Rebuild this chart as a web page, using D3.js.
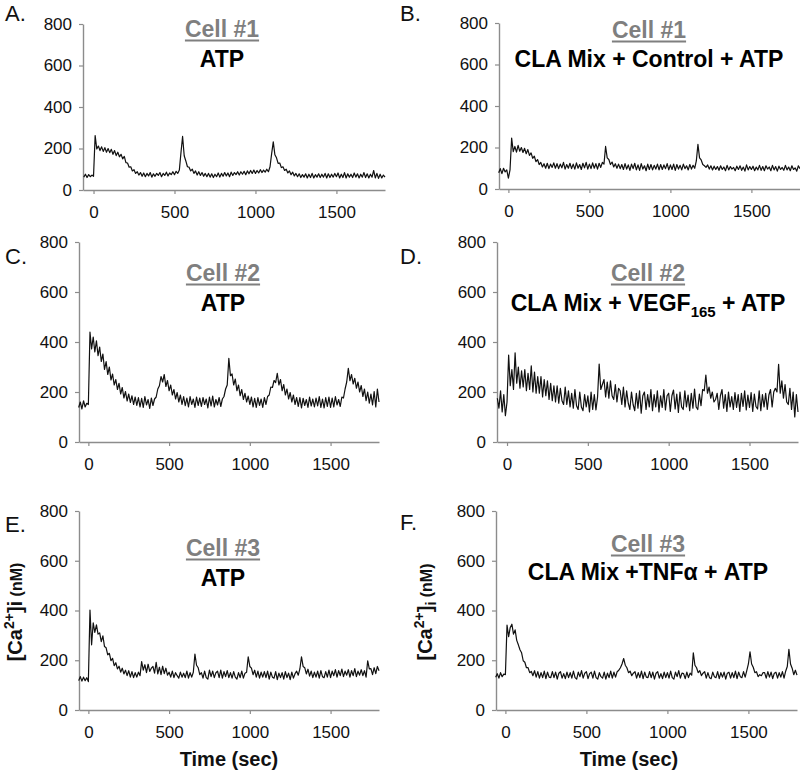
<!DOCTYPE html>
<html><head><meta charset="utf-8">
<script src="https://cdn.jsdelivr.net/npm/d3@7"></script>
<style>
html,body{margin:0;padding:0;background:#fff;}
svg{display:block;font-family:"Liberation Sans",Arial,Helvetica,sans-serif;}
</style></head><body>
<svg id="chart" width="800" height="773"></svg>
<script>
// ---------- DATA ----------
const timeStart = -60, timeStep = 10;   // sample times: -60, -50, ... 1800 s
const xTicks = [0, 500, 1000, 1500];
const yTicks = [0, 200, 400, 600, 800];
const yDomain = [0, 800];
const xEnd = 1800;
const panelLetters = ["A.", "B.", "C.", "D.", "E.", "F."];
const cellLabels = ["Cell #1", "Cell #1", "Cell #2", "Cell #2", "Cell #3", "Cell #3"];
const treatmentA = [["ATP", ""]];
const treatmentB = [["CLA Mix + Control + ATP", ""]];
const treatmentC = [["ATP", ""]];
const treatmentD = [["CLA Mix + VEGF", ""], ["165", "sub"], [" + ATP", ""]];
const treatmentE = [["ATP", ""]];
const treatmentF = [["CLA Mix +TNFα + ATP", ""]];
const xAxisTitle = "Time (sec)";

// [Ca2+]i (nM) traces, one value every 10 s from -60 s to 1800 s
const cell1ATP = [
 62,76,60,74,64,72,
 66,262,198,212,190,208,186,204,182,200,
 180,196,172,190,166,182,160,172,150,162,
 132,130,110,112,92,98,80,88,72,84,
 66,82,64,80,68,84,62,78,66,80,
 70,84,64,80,70,86,68,82,74,88,
 74,90,80,96,180,258,165,140,112,110,
 92,100,80,92,72,88,70,84,66,80,
 64,80,62,78,60,76,64,82,62,80,
 66,84,68,82,64,86,70,84,74,88,
 72,88,76,90,74,92,78,94,80,96,
 80,94,82,98,84,96,86,100,88,112,
 175,232,170,155,128,130,108,112,94,100,
 82,92,74,86,68,80,64,78,60,74,
 62,78,58,76,60,80,58,74,62,78,
 60,76,62,80,58,78,60,76,62,80,
 64,82,58,76,60,84,58,78,62,76,
 60,82,62,78,58,76,62,84,60,78,
 58,76,62,94,58,80,56,76,58,72,
 62];
const cell1CLAControl = [
 78,98,74,100,82,92,
 52,92,245,180,205,178,210,182,200,176,
 196,170,190,162,174,148,158,132,142,118,
 128,106,122,100,124,98,120,104,126,100,
 122,98,120,102,128,96,118,100,124,98,
 120,96,126,100,118,94,124,102,128,96,
 120,98,126,100,122,96,124,104,128,120,
 205,150,142,118,130,106,122,100,120,98,
 118,94,122,96,116,90,120,98,124,92,
 116,90,122,96,112,88,120,94,118,92,
 114,96,120,92,118,94,116,98,122,92,
 116,94,120,90,118,96,114,92,120,98,
 112,92,118,96,114,100,135,215,150,140,
 118,112,104,116,96,112,92,110,94,108,
 90,112,94,106,88,114,92,108,96,104,
 88,110,94,112,90,106,86,116,92,108,
 94,110,88,106,92,114,90,108,88,112,
 96,106,88,114,92,108,86,110,94,104,
 90,114,92,106,88,112,94,102,86,112,
 98];
const cell2ATP = [
 138,160,132,165,140,155,
 150,440,372,420,360,405,345,380,322,352,
 290,322,270,300,248,272,228,250,210,235,
 192,218,176,202,164,192,158,185,150,180,
 146,178,140,175,138,182,148,170,134,176,
 146,172,180,212,225,262,240,270,222,246,
 205,228,188,210,172,198,160,188,150,182,
 145,176,140,182,150,172,138,180,146,176,
 142,178,150,172,136,180,144,184,140,170,
 148,178,142,172,182,212,228,335,265,272,
 228,252,205,228,185,210,170,195,160,184,
 150,180,140,175,138,178,146,172,138,178,
 150,182,188,220,218,246,238,275,228,250,
 205,230,188,212,172,198,160,188,150,178,
 142,178,136,175,146,170,138,180,144,172,
 140,176,144,182,138,172,136,178,142,180,
 138,176,140,182,148,170,142,180,176,212,
 240,295,245,270,232,255,215,240,200,226,
 182,212,165,200,155,192,148,202,140,212,
 160];
const cell2CLAVEGF = [
 175,135,205,120,190,105,
 160,348,225,290,210,357,235,300,215,285,
 220,290,205,275,210,305,200,280,195,262,
 195,262,180,250,185,245,170,235,165,225,
 160,225,155,215,165,150,220,150,205,140,
 195,135,210,145,130,200,140,125,190,140,
 185,120,200,130,190,128,180,312,210,230,
 250,180,240,175,245,185,170,230,160,215,
 205,150,220,140,205,155,130,200,150,125,
 195,135,205,115,185,200,130,190,140,210,
 125,190,140,205,120,185,138,210,128,185,
 195,122,185,208,132,192,118,200,140,130,
 205,140,188,125,195,135,212,140,130,192,
 145,210,205,268,195,220,175,200,160,170,
 195,130,185,210,135,190,122,200,140,182,
 130,198,138,190,122,195,142,205,128,188,
 138,198,122,192,142,132,205,125,190,140,
 195,130,188,210,140,200,215,200,311,195,
 245,175,230,160,150,215,130,200,100,190,
 120];
const cell3ATP = [
 118,134,116,132,118,130,
 114,402,262,350,312,342,305,310,275,298,
 255,250,222,228,198,208,178,190,165,176,
 152,168,145,160,138,158,132,154,130,150,
 132,152,138,195,160,182,150,184,155,168,
 175,148,192,145,172,142,176,146,168,140,
 152,132,156,130,150,138,128,152,132,148,
 130,156,128,150,132,152,225,180,170,142,
 150,128,156,130,124,160,134,156,130,150,
 156,130,160,128,154,134,158,130,150,128,
 154,132,124,150,130,156,128,148,152,214,
 175,168,142,160,132,156,128,152,132,154,
 130,156,124,152,132,128,154,122,148,130,
 150,124,154,130,148,122,152,128,146,156,
 140,165,214,175,170,145,164,136,156,130,
 152,132,156,128,158,134,130,154,132,160,
 130,156,138,162,132,158,138,164,134,156,
 140,162,132,158,138,166,134,156,140,162,
 138,158,132,198,165,166,142,170,146,175,
 158];
const cell3CLATNF = [
 132,146,128,150,134,144,
 142,341,295,332,345,305,322,280,262,242,
 230,198,192,170,170,150,155,138,158,132,
 154,128,150,130,156,126,152,132,130,154,
 130,152,124,148,154,128,146,126,152,130,
 150,128,156,130,124,152,134,158,128,148,
 154,126,146,152,128,156,130,124,150,134,
 128,152,124,148,130,156,128,152,132,154,
 160,170,185,207,180,170,150,156,138,148,
 154,128,150,130,156,126,152,132,130,154,
 130,152,124,148,154,128,146,126,152,130,
 150,128,156,130,124,152,134,158,128,148,
 146,126,152,130,148,140,230,180,170,150,
 158,138,148,154,128,150,130,126,152,134,
 130,154,126,150,132,152,124,148,152,128,
 150,130,156,126,152,134,130,154,132,158,
 185,234,185,172,150,154,134,142,138,150,
 150,128,154,132,152,126,148,152,128,150,
 132,154,128,156,175,244,185,168,142,160,
 140];

const traces = [cell1ATP, cell1CLAControl, cell2ATP, cell2CLAVEGF, cell3ATP, cell3CLATNF];
const treatments = [treatmentA, treatmentB, treatmentC, treatmentD, treatmentE, treatmentF];

// ---------- LAYOUT ----------
const layout = [
 {left:83,  right:385, top:24,  bottom:190, x0:-65, tx:222, cellY:37,  treatY:67,  lx:5,   ly:21},
 {left:499, right:800, top:23,  bottom:189, x0:-58, tx:649, cellY:38,  treatY:67,  lx:400, ly:21},
 {left:79,  right:379, top:242, bottom:442, x0:-58, tx:223, cellY:281, treatY:311, lx:5,   ly:264},
 {left:497, right:798, top:242, bottom:442, x0:-62, tx:648, cellY:281, treatY:311, lx:400, ly:264},
 {left:79,  right:379, top:511, bottom:710, x0:-58, tx:223, cellY:556, treatY:586, lx:5,   ly:532, ylab:{x:22, y:612, sub:false}, xlab:{x:229, y:766}},
 {left:496, right:797, top:511, bottom:710, x0:-58, tx:648, cellY:552, treatY:580, lx:400, ly:530, ylab:{x:432, y:612, sub:true},  xlab:{x:629, y:766}}
];

const svg = d3.select("#chart");
const axisColor = "#8c8c8c";

layout.forEach((L, i) => {
  const data = traces[i].map((v, k) => ({t: timeStart + k * timeStep, v}));
  const x = d3.scaleLinear().domain([L.x0, xEnd]).range([L.left, L.right]);
  const y = d3.scaleLinear().domain(yDomain).range([L.bottom, L.top]);
  const g = svg.append("g");

  const ya = g.append("g").attr("transform", `translate(${L.left},0)`)
    .call(d3.axisLeft(y).tickValues(yTicks).tickSize(4).tickSizeOuter(0).tickPadding(7));
  const xa = g.append("g").attr("transform", `translate(0,${L.bottom})`)
    .call(d3.axisBottom(x).tickValues(xTicks).tickSize(4).tickSizeOuter(0).tickPadding(12).tickFormat(d3.format("d")));
  [ya, xa].forEach(a => {
    a.select(".domain").attr("stroke", axisColor).attr("stroke-width", 1.4);
    a.selectAll(".tick line").attr("stroke", axisColor).attr("stroke-width", 1.2);
    a.selectAll(".tick text").attr("fill", "#111").attr("font-size", 17)
      .attr("font-family", '"Liberation Sans",Arial,sans-serif');
  });

  g.append("path").datum(data)
    .attr("fill", "none").attr("stroke", "#111").attr("stroke-width", 1.2)
    .attr("stroke-linejoin", "round")
    .attr("d", d3.line().x(d => x(d.t)).y(d => y(d.v)));

  // panel letter
  g.append("text").attr("x", L.lx).attr("y", L.ly).attr("font-size", 22).attr("fill", "#111").text(panelLetters[i]);

  // cell label (gray, underlined)
  const ct = g.append("text").attr("x", L.tx).attr("y", L.cellY).attr("text-anchor", "middle")
    .attr("font-size", 23).attr("font-weight", "bold").attr("fill", "#7f7f7f").text(cellLabels[i]);
  const w = ct.node().getComputedTextLength();
  g.append("line").attr("x1", L.tx - w / 2).attr("x2", L.tx + w / 2)
    .attr("y1", L.cellY + 3.5).attr("y2", L.cellY + 3.5)
    .attr("stroke", "#7f7f7f").attr("stroke-width", 2);

  // treatment label
  const tt = g.append("text").attr("x", L.tx).attr("y", L.treatY).attr("text-anchor", "middle")
    .attr("font-size", 23).attr("font-weight", "bold").attr("fill", "#000");
  let shifted = 0;
  treatments[i].forEach(([s, kind]) => {
    const sp = tt.append("tspan").text(s);
    if (kind === "sub") { sp.attr("font-size", 15).attr("dy", 6); shifted = 6; }
    else if (shifted) { sp.attr("dy", -shifted); shifted = 0; }
  });

  if (L.ylab) {
    const yl = g.append("text").attr("transform", `translate(${L.ylab.x},${L.ylab.y}) rotate(-90)`)
      .attr("text-anchor", "middle").attr("font-weight", "bold").attr("font-size", 20).attr("fill", "#111");
    yl.append("tspan").text("[Ca");
    yl.append("tspan").attr("font-size", 14).attr("dy", -8).text("2+");
    yl.append("tspan").attr("dy", 8).text("]");
    if (L.ylab.sub) {
      yl.append("tspan").attr("font-size", 14).attr("dy", 4).text("i");
      yl.append("tspan").attr("font-size", 16).attr("dy", -4).text(" (nM)");
    } else {
      yl.append("tspan").text("i");
      yl.append("tspan").attr("font-size", 16).text(" (nM)");
    }
  }
  if (L.xlab) {
    g.append("text").attr("x", L.xlab.x).attr("y", L.xlab.y).attr("text-anchor", "middle")
      .attr("font-size", 20).attr("font-weight", "bold").attr("fill", "#111").text(xAxisTitle);
  }
});
</script>
</body></html>
